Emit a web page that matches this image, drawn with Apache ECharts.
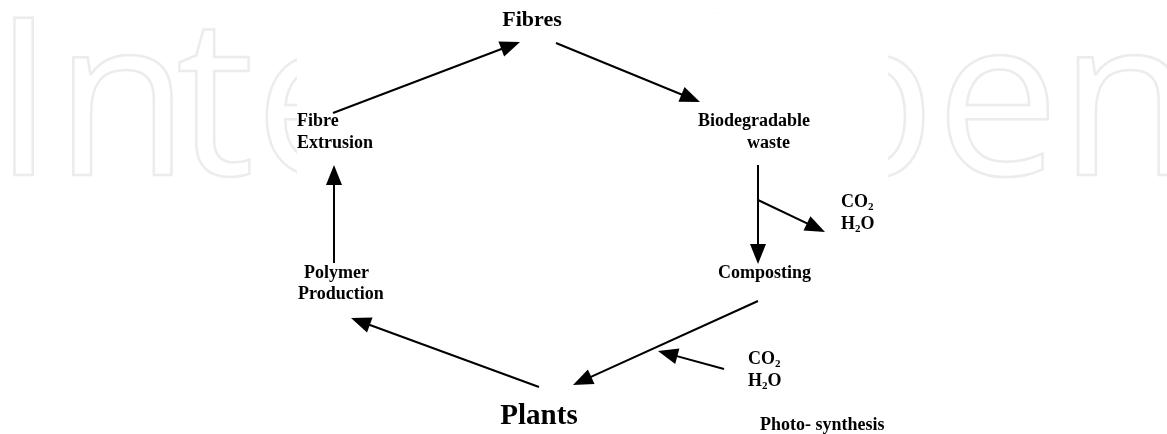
<!DOCTYPE html>
<html>
<head>
<meta charset="utf-8">
<script src="https://cdn.jsdelivr.net/npm/echarts@6/dist/echarts.min.js"></script>
<style>
  html, body { margin: 0; padding: 0; background: #fff; }
  #chart { width: 1167px; height: 434px; }
</style>
</head>
<body>
<div id="chart"></div>
<script>
// textos del diagrama (una entrada por renglon)
const labelTexts = ['Fibres', 'Fibre', 'Extrusion', 'Biodegradable', 'waste', 'Polymer', 'Production',
  'Composting', '{n|CO}{s|2}', '{n|H}{s|2}{n|O}', '{n|CO}{s|2}', '{n|H}{s|2}{n|O}', 'Plants', 'Photo- synthesis'];
const labelX = [532, 297, 297, 698, 747, 304, 298, 718, 841, 841, 748, 748, 539, 760];
const labelY = [20, 121, 143, 121, 143, 273, 294, 273, 202, 224, 359, 381, 417, 425];
const labelKind = ['top', 'step', 'step', 'step', 'step', 'step', 'step', 'step', 'chem', 'chem', 'chem', 'chem', 'big', 'note'];

// flechas: origen y punta
const arrowFrom = [[333, 113], [556, 43], [758, 165], [758, 200], [758, 301], [724, 369], [539, 387], [334, 263]];
const arrowTo = [[520, 42], [700, 102], [758, 264], [825, 232], [573, 385], [658, 351], [351, 318], [334, 165]];

const headLen = 20;
const headWidth = 16;

const font = 'Liberation Serif';
const ink = '#000';
const kindStyle = {
  top: { fontSize: 22, align: 'center' },
  step: { fontSize: 18, align: 'left' },
  chem: { fontSize: 18, align: 'left' },
  big: { fontSize: 29, align: 'center' },
  note: { fontSize: 18, align: 'left' }
};

const labelData = labelTexts.map((t, i) => {
  const k = kindStyle[labelKind[i]];
  return {
    value: [labelX[i], labelY[i]],
    label: {
      show: true,
      formatter: t,
      position: k.align === 'center' ? 'inside' : 'right',
      distance: 0,
      fontSize: k.fontSize,
      fontFamily: font,
      fontWeight: 'bold',
      color: ink,
      opacity: 1,
      align: k.align === 'center' ? 'center' : 'left',
      rich: {
        n: { fontSize: 18, fontFamily: font, fontWeight: 'bold', color: ink, lineHeight: 22 },
        s: { fontSize: 11, fontFamily: font, fontWeight: 'bold', color: ink, lineHeight: 14, verticalAlign: 'bottom', padding: [8, 0, 0, 0] }
      }
    }
  };
});

// la punta del triangulo queda en arrowTo: el simbolo va centrado en el extremo
const arrowData = arrowFrom.map((f, i) => {
  const t = arrowTo[i];
  const dx = t[0] - f[0], dy = t[1] - f[1];
  const len = Math.sqrt(dx * dx + dy * dy);
  const end = [t[0] - dx / len * headLen / 2, t[1] - dy / len * headLen / 2];
  return { coords: [f, end] };
});

const chart = echarts.init(document.getElementById('chart'));

// marca de agua "IntechOpen" en contorno gris claro
const wmStyle = (text) => ({
  text: text, font: 'normal 220px "Open Sans"', fill: 'rgba(0,0,0,0)',
  stroke: '#ececec', lineWidth: 2.5, verticalAlign: 'middle'
});

const option = {
  backgroundColor: '#fff',
  animation: false,
  grid: { left: 0, right: 0, top: 0, bottom: 0 },
  xAxis: { type: 'value', min: 0, max: 1167, show: false },
  yAxis: { type: 'value', min: 0, max: 434, inverse: true, show: false },
  graphic: [
    { type: 'text', z: 0, x: -7, y: 112, style: wmStyle('In') },
    { type: 'text', z: 0, x: 176, y: 112, style: wmStyle('te') },
    { type: 'text', z: 0, x: 630, y: 112, style: wmStyle('Open') },
    {
      type: 'rect', z: 1,
      shape: { x: 297, y: 14, width: 591, height: 420 },
      style: { fill: '#fff' }
    }
  ],
  series: [
    {
      type: 'lines',
      coordinateSystem: 'cartesian2d',
      z: 3,
      symbol: ['none', 'triangle'],
      symbolSize: [1, [headWidth, headLen]],
      lineStyle: { color: ink, width: 2, opacity: 1, curveness: 0 },
      itemStyle: { color: ink, opacity: 1 },
      data: arrowData
    },
    {
      type: 'scatter',
      z: 4,
      symbolSize: 0,
      silent: true,
      itemStyle: { opacity: 1 },
      data: labelData
    }
  ]
};

chart.setOption(option);
window.addEventListener('resize', chart.resize);
</script>
</body>
</html>
